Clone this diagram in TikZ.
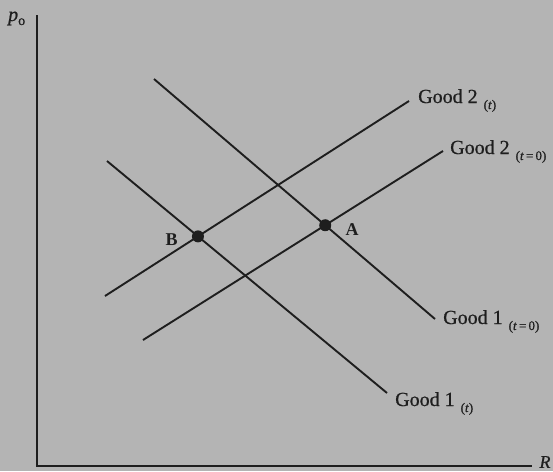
\documentclass[tikz,border=0pt]{standalone}
\usepackage{fontspec}
\setmainfont{Liberation Serif}
\newfontfamily\heavy[FakeBold=0.7]{Liberation Serif}
\usepackage{tikz}
\usetikzlibrary{positioning,calc}
\definecolor{paper}{RGB}{180,180,180}
\definecolor{ink}{RGB}{30,30,30}
\newcommand{\sub}[1]{\hspace{1pt}\raisebox{-6pt}{\fontsize{13}{13}\selectfont(#1)}}
\tikzset{
  axis/.style={draw=ink,line width=2pt},
  curve/.style={draw=ink,line width=1.9pt},
  lbl/.style={font=\heavy\fontsize{20}{21}\selectfont,text=ink,inner sep=0pt,anchor=base west},
  pt/.style={circle,fill=ink,minimum size=12pt,inner sep=0pt},
  ptlbl/.style={font=\fontsize{18}{19}\selectfont\bfseries,text=ink,inner sep=0pt},
}

\begin{document}
\begin{tikzpicture}[x=1pt,y=-1pt]
 \fill[paper] (0,0) rectangle (553,471);
 \useasboundingbox (0,0) rectangle (553,471);
 % axes
 \coordinate (top) at (37,15);
 \coordinate (orig) at (37,466);
 \coordinate (right) at (532,466);
 \draw[axis] (top) -- (orig) -- (right);
 \node[font=\heavy\fontsize{20}{21}\selectfont\itshape,text=ink,inner sep=0pt,anchor=base west] (py) at (8,21) {p\raisebox{-4pt}{\fontsize{14}{14}\selectfont\upshape o}};
 \node[font=\heavy\fontsize{18}{19}\selectfont\itshape,text=ink] (rx) at (545,462) {R};
 % curve ends
 \coordinate (g1a) at (154,79);  \coordinate (g1b) at (435,319);
 \coordinate (h1a) at (107,161); \coordinate (h1b) at (387,393);
 \coordinate (h2a) at (105,296); \coordinate (h2b) at (409,101);
 \coordinate (g2a) at (143,340); \coordinate (g2b) at (443,151);
 \draw[curve] (g1a) -- (g1b);
 \draw[curve] (h1a) -- (h1b);
 \draw[curve] (h2a) -- (h2b);
 \draw[curve] (g2a) -- (g2b);
 \node[lbl] (lh2) at ($(h2b)+(9,2)$) {Good 2 \sub{\textit{t}}};
 \node[lbl] (lg2) at ($(g2b)+(7,3)$) {Good 2 \sub{\textit{t}\,=\,0}};
 \node[lbl] (lg1) at ($(g1b)+(8,5)$) {Good 1 \sub{\textit{t}\,=\,0}};
 \node[lbl] (lh1) at ($(h1b)+(8,13)$) {Good 1 \sub{\textit{t}}};
 % equilibria
 \node[pt] (B) at (intersection of h1a--h1b and h2a--h2b) {};
 \node[pt] (A) at (intersection of g1a--g1b and g2a--g2b) {};
 \node[ptlbl,left=14pt of B,yshift=-3pt] (lB) {B};
 \node[ptlbl,right=14pt of A,yshift=-4pt] (lA) {A};
\end{tikzpicture}
\end{document}
